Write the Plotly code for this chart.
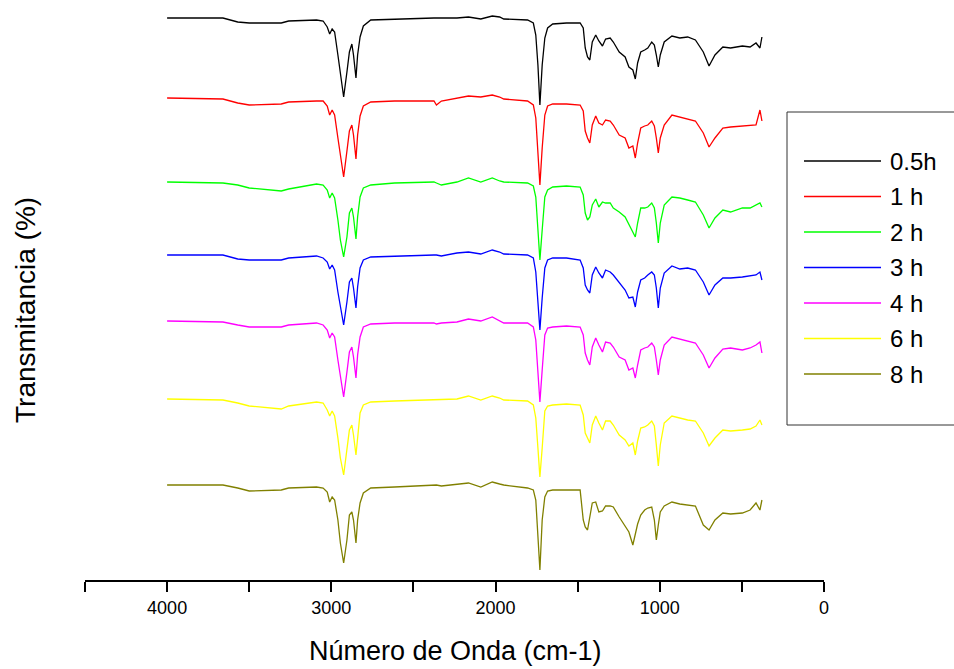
import plotly.graph_objects as go

# Wavenumber grid (cm-1), shared by every spectrum
wavenumber = [
    4000, 3660, 3570, 3500, 3305, 3260, 3090, 3050, 3025, 3010,
    2995, 2980, 2960, 2945, 2925, 2905, 2890, 2875, 2865, 2850,
    2840, 2825, 2805, 2760, 2615, 2375, 2360, 2330, 2235, 2165,
    2090, 2020, 1975, 1950, 1805, 1770, 1755, 1742, 1730, 1716,
    1700, 1683, 1652, 1568, 1485, 1466, 1454, 1440, 1426, 1411,
    1390, 1371, 1349, 1330, 1302, 1283, 1247, 1211, 1188, 1164,
    1149, 1135, 1116, 1092, 1073, 1049, 1033, 1021, 1009, 997,
    973, 926, 878, 830, 783, 735, 700, 664, 616, 569,
    497, 450, 414, 390, 378,
]

# Stacked transmittance (offset, arbitrary units) for each reaction time
t_05h = [
    562, 562, 558, 557, 557, 559, 560, 559, 553, 546,
    551, 548, 525, 508, 483, 508, 528, 536, 525, 502,
    525, 543, 554, 560, 561, 562, 562, 562, 562, 563,
    561, 564, 563, 561, 560, 557, 545, 515, 475, 515,
    542, 552, 556, 557, 557, 552, 532, 523, 520, 538,
    545, 539, 534, 541, 542, 538, 528, 523, 513, 510,
    501, 517, 528, 530, 532, 538, 535, 525, 513, 525,
    538, 544, 542, 543, 540, 528, 514, 525, 533, 532,
    534, 533, 537, 532, 543,
]
t_1h = [
    482, 481, 477, 475, 476, 478, 479, 479, 474, 465,
    470, 465, 442, 425, 403, 429, 449, 455, 445, 421,
    445, 464, 474, 478, 479, 479, 475, 479, 482, 484,
    483, 485, 483, 481, 479, 475, 462, 432, 395, 432,
    465, 474, 476, 476, 475, 469, 449, 442, 437, 455,
    464, 457, 455, 460, 459, 455, 445, 442, 432, 434,
    422, 437, 452, 454, 455, 459, 454, 442, 427, 442,
    455, 465, 463, 461, 459, 447, 433, 442, 452, 453,
    454, 455, 455, 470, 459,
]
t_2h = [
    398, 397, 395, 392, 389, 391, 396, 395, 390, 382,
    387, 382, 360, 340, 323, 343, 367, 372, 363, 341,
    363, 383, 392, 395, 397, 398, 397, 395, 398, 402,
    398, 402, 399, 398, 397, 394, 383, 353, 320, 350,
    383, 390, 393, 394, 393, 385, 367, 360, 363, 375,
    381, 373, 378, 377, 377, 372, 368, 363, 355, 348,
    343, 357, 372, 372, 373, 377, 372, 357, 337, 357,
    375, 383, 382, 380, 378, 365, 352, 362, 370, 368,
    372, 372, 375, 377, 373,
]
t_3h = [
    325, 325, 321, 320, 320, 322, 324, 322, 318, 311,
    315, 310, 288, 272, 255, 278, 298, 302, 292, 272,
    293, 312, 320, 323, 324, 325, 325, 324, 327, 328,
    326, 330, 328, 326, 325, 322, 308, 282, 250, 282,
    312, 320, 322, 322, 320, 312, 295, 290, 287, 305,
    313, 307, 302, 310, 308, 305, 297, 290, 282, 283,
    273, 288, 300, 302, 305, 308, 305, 292, 272, 292,
    307, 314, 311, 312, 310, 298, 285, 295, 302, 302,
    303, 304, 305, 308, 300,
]
t_4h = [
    259, 258, 255, 253, 253, 255, 257, 255, 250, 242,
    247, 243, 220, 203, 183, 208, 228, 233, 223, 202,
    225, 243, 253, 256, 257, 257, 256, 257, 258, 261,
    259, 263, 259, 257, 257, 253, 240, 210, 178, 210,
    245, 252, 253, 254, 253, 245, 227, 220, 215, 233,
    242, 235, 228, 238, 237, 233, 223, 220, 210, 212,
    202, 215, 230, 232, 233, 237, 233, 220, 205, 220,
    235, 243, 241, 239, 237, 225, 212, 222, 231, 232,
    230, 232, 235, 238, 227,
]
t_6h = [
    181, 180, 177, 174, 171, 174, 178, 177, 170, 164,
    169, 164, 142, 122, 105, 130, 150, 155, 145, 125,
    145, 167, 175, 178, 179, 180, 180, 180, 181, 184,
    180, 184, 182, 180, 179, 175, 162, 132, 103, 132,
    169, 174, 175, 176, 175, 165, 147, 142, 137, 155,
    164, 157, 150, 159, 159, 155, 145, 140, 134, 137,
    125, 139, 152, 153, 155, 159, 154, 135, 114, 135,
    157, 164, 162, 160, 159, 147, 134, 142, 150, 149,
    150, 151, 154, 160, 155,
]
t_8h = [
    95, 95, 92, 89, 90, 92, 93, 92, 88, 78,
    83, 80, 60, 37, 17, 40, 65, 68, 60, 37,
    60, 77, 87, 92, 93, 95, 95, 94, 96, 97,
    93, 98, 96, 95, 92, 90, 80, 40, 10, 60,
    83, 89, 90, 90, 90, 60, 53, 50, 62, 77,
    78, 68, 69, 74, 74, 73, 63, 54, 48, 35,
    45, 56, 65, 70, 72, 73, 60, 40, 55, 68,
    74, 78, 76, 75, 74, 55, 50, 60, 67, 66,
    67, 70, 77, 70, 80,
]

series_names = ["0.5h", "1 h", "2 h", "3 h", "4 h", "6 h", "8 h"]
series_values = [t_05h, t_1h, t_2h, t_3h, t_4h, t_6h, t_8h]
series_colors = ["#000000", "#ff0000", "#00ff00", "#0000ff", "#ff00ff", "#ffff00", "#808000"]

x_tick_values = [4500, 4000, 3500, 3000, 2500, 2000, 1500, 1000, 500, 0]
x_tick_labels = ["", "4000", "", "3000", "", "2000", "", "1000", "", "0"]

FONT = "Liberation Sans, Arial, sans-serif"

fig = go.Figure()
for name, vals, col in zip(series_names, series_values, series_colors):
    fig.add_trace(go.Scatter(
        x=wavenumber, y=vals, mode="lines", name=name,
        line=dict(color=col, width=1.3), showlegend=False,
    ))

# plot area geometry in pixels (used to place the framed key)
W, H = 954, 669
ML, MR, MT, MB = 85, 130, 0, 89
PW, PH = W - ML - MR, H - MT - MB


def px_x(px):
    return (px - ML) / PW


def px_y(py):
    return (H - MB - py) / PH


shapes = [dict(
    type="rect", xref="paper", yref="paper",
    x0=px_x(787), x1=px_x(970), y0=px_y(425), y1=px_y(112),
    line=dict(color="#333333", width=1), fillcolor="rgba(0,0,0,0)",
)]
annotations = []
key_top, key_step = 161, 35.5
for i, (name, col) in enumerate(zip(series_names, series_colors)):
    yy = px_y(key_top + i * key_step)
    shapes.append(dict(
        type="line", xref="paper", yref="paper",
        x0=px_x(804), x1=px_x(881), y0=yy, y1=yy,
        line=dict(color=col, width=1.5),
    ))
    annotations.append(dict(
        xref="paper", yref="paper", x=px_x(888), y=yy,
        xanchor="left", yanchor="middle", text=name, showarrow=False,
        font=dict(family=FONT, size=24, color="#000000"),
    ))

annotations.append(dict(
    xref="paper", yref="paper", x=px_x(25), y=px_y(310),
    xanchor="center", yanchor="middle", textangle=-90,
    text="Transmitancia (%)", showarrow=False,
    font=dict(family=FONT, size=28, color="#000000"),
))
annotations.append(dict(
    xref="paper", yref="paper", x=px_x(455), y=px_y(651),
    xanchor="center", yanchor="middle",
    text="Número de Onda (cm-1)", showarrow=False,
    font=dict(family=FONT, size=27, color="#000000"),
))

fig.update_layout(
    width=W, height=H,
    margin=dict(l=ML, r=MR, t=MT, b=MB, pad=0),
    paper_bgcolor="white", plot_bgcolor="white",
    showlegend=False,
    shapes=shapes, annotations=annotations,
    xaxis=dict(
        range=[4500, 0], tickvals=x_tick_values, ticktext=x_tick_labels,
        showline=True, linecolor="#000000", linewidth=2,
        ticks="outside", ticklen=10, tickwidth=2, tickcolor="#000000",
        showgrid=False, zeroline=False,
        tickfont=dict(family=FONT, size=18, color="#000000"),
    ),
    yaxis=dict(range=[0, 580], visible=False),
)

fig.write_html("out.html")
